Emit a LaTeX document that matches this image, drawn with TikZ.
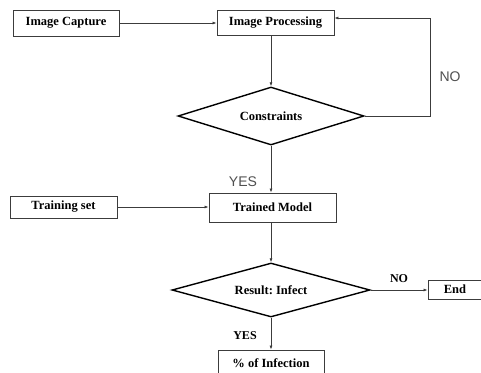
\documentclass[tikz,border=0pt]{standalone}
\usepackage{fontspec}
\setmainfont{Liberation Serif}
\newfontfamily\labelsans{Liberation Sans}
\usetikzlibrary{arrows.meta,shapes.geometric}
\definecolor{LineGray}{RGB}{60,60,60}
\definecolor{LabelGray}{RGB}{80,80,80}
\frenchspacing

\begin{document}
\begin{tikzpicture}[x=1pt,y=-1pt,>={Latex[length=4pt,width=3pt]},
    stagebox/.style={draw=LineGray,line width=0.9pt,rectangle,inner sep=0pt,
      font=\fontsize{12.5}{14}\selectfont\bfseries},
    testbox/.style={draw=black,line width=1.4pt,diamond,aspect=3.3,inner sep=0pt,
      font=\fontsize{12.5}{14}\selectfont\bfseries},
    flow/.style={->,LineGray,line width=0.7pt},
    sanslabel/.style={text=LabelGray,font=\labelsans\fontsize{14}{16}\selectfont},
    seriflabel/.style={font=\fontsize{12}{14}\selectfont\bfseries}
  ]
  \clip (0,0) rectangle (481,372);
  \fill[white] (0,0) rectangle (481,372);
  % top row
  \node[stagebox,minimum width=106pt,minimum height=26pt] (capture) at (66,23) {Image Capture};
  \node[stagebox,minimum width=117pt,minimum height=25pt] (process) at (275.5,22.5) {Image Processing};
  \node[testbox,minimum width=186pt,minimum height=58pt] (constr) at (271,116) {Constraints};
  \coordinate (loopdown) at (430,116);
  \coordinate (loopup) at (430,18);
  % middle
  \node[stagebox,minimum width=127pt,minimum height=29pt] (model) at (272.5,207.5) {Trained Model};
  \node[stagebox,minimum width=107pt,minimum height=22pt] (train) at (63.5,207) {Training set};
  % bottom
  \node[testbox,minimum width=198pt,minimum height=54pt] (result) at (271,290) {Result: Infect};
  \node[stagebox,minimum width=54pt,minimum height=19pt] (finish) at (455,289.5) {End};
  \node[stagebox,minimum width=106pt,minimum height=26pt] (percent) at (271,363) {\% of Infection};

  \draw[flow] (capture) -- (process.west |- capture);
  \draw[flow] (process.south -| constr.north) -- (constr.north);
  \draw[flow] (constr.east) -- (loopdown) -- (loopup) -- (process.east |- loopup);
  \node[sanslabel] (nolabel) at (450,77) {NO};
  \draw[flow] (constr.south) -- (model.north -| constr.south);
  \node[sanslabel] (yeslabel) at (243,182) {YES};
  \draw[flow] (train) -- (model.west |- train);
  \draw[flow] (model.south -| result.north) -- (result.north);
  \draw[flow] (result.east) -- (finish.west |- result);
  \node[seriflabel] (nolow) at (399,279) {NO};
  \draw[flow] (result.south) -- (percent.north -| result.south);
  \node[seriflabel] (yeslow) at (245,336) {YES};
\end{tikzpicture}
\end{document}
